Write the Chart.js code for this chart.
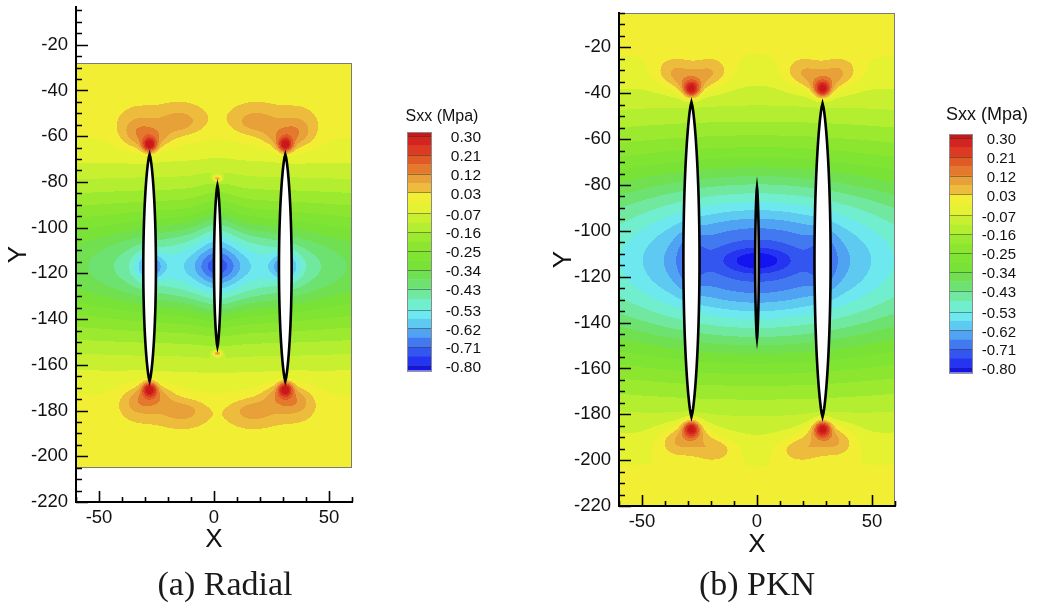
<!DOCTYPE html>
<html>
<head>
<meta charset="utf-8">
<script src="https://cdn.jsdelivr.net/npm/chart.js@4.4.0/dist/chart.umd.min.js"></script>
<style>
  body { margin: 0; background: #fff; width: 1037px; height: 604px; overflow: hidden; position: relative; }
  canvas { position: absolute; top: 0; }
</style>
</head>
<body>
<canvas id="radial" width="540" height="604" style="left:0"></canvas>
<canvas id="pkn" width="497" height="604" style="left:540px"></canvas>
<script>
// Sxx contour levels (MPa) shown on the legends
const sxxLevels = [0.30, 0.21, 0.12, 0.03, -0.07, -0.16, -0.25, -0.34, -0.43, -0.53, -0.62, -0.71, -0.80];
const xTickValues = [-50, 0, 50];
const yTickValues = [-220, -200, -180, -160, -140, -120, -100, -80, -60, -40, -20];

// (a) Radial: fractures (x, tips, max opening)
const radialFracX = [-28, 1.5, 31];
const radialFracTop = [-68, -81.5, -68];
const radialFracBottom = [-167, -152, -167];
const radialFracWidth = [5.5, 3, 5.5];
// (a) Radial: stress sources (centre, amplitude, spread)
const radialSrcX   = [1.5, 1.5, 1.5, -28, 1.5, 31, -28, 31, -28, 31, -33, -15, -26, 36, 18, 29, -32, -14, -25, 35, 17, 28, 1.5, 1.5];
const radialSrcY   = [-117, -117, -112, -117, -117, -117, -64, -64, -170.5, -170.5, -58, -54, -61, -58, -54, -61, -176, -180, -173, -176, -180, -173, -78.5, -155];
const radialSrcAmp = [-0.38, -0.24, -0.10, -0.18, -0.06, -0.18, 0.30, 0.30, 0.30, 0.30, 0.11, 0.10, 0.08, 0.11, 0.10, 0.08, 0.11, 0.10, 0.08, 0.11, 0.10, 0.08, 0.22, 0.22];
const radialSrcRx  = [250, 46, 9, 6, 8, 6, 3, 3, 3, 3, 9, 11, 8, 9, 11, 8, 9, 11, 8, 9, 11, 8, 2, 2];
const radialSrcRy  = [40, 17, 26, 6, 5, 6, 3, 3, 3, 3, 8, 6.5, 5, 8, 6.5, 5, 7, 6, 5, 7, 6, 5, 1.5, 1.5];

// (b) PKN: fractures
const pknFracX = [-28.5, 0, 28.5];
const pknFracTop = [-44, -81, -44.5];
const pknFracBottom = [-181, -147, -181];
const pknFracWidth = [7, 1.6, 7];
// (b) PKN: stress sources
const pknSrcX   = [0, 0, -28.5, 28.5, 0, -28.5, 28.5, -28.5, 28.5, -36, -20, -28.5, 20, 36, 28.5, -35, -19, -27.5, 35, 19, 27.5];
const pknSrcY   = [-113, -113, -113, -113, -113, -38.5, -38.5, -186, -186, -31, -31, -36, -31, -31, -36, -192, -195, -188, -192, -195, -188];
const pknSrcAmp = [-0.50, -0.28, -0.07, -0.07, -0.10, 0.30, 0.30, 0.30, 0.30, 0.11, 0.11, 0.10, 0.11, 0.11, 0.10, 0.11, 0.11, 0.10, 0.11, 0.11, 0.10];
const pknSrcRx  = [250, 58, 6, 6, 14, 3.5, 3.5, 3.5, 3.5, 9, 9, 8, 9, 9, 8, 9, 10, 8, 9, 10, 8];
const pknSrcRy  = [62, 32, 12, 12, 5, 3.5, 3.5, 3.5, 3.5, 7, 7, 5, 7, 7, 5, 7, 6, 5, 7, 6, 5];

// legend palette, top (above 0.30) to bottom (below -0.80), two shades per labelled interval
const bandColors = [
  '#c81818', '#d42420', '#dc3a22', '#e05a26', '#e4782c', '#e8a038', '#edbc3c',
  '#f2ee34', '#e4f232', '#c8f030', '#b4ee30', '#9cea30', '#8ce630', '#80e432',
  '#78e236', '#70e050', '#6ee270', '#70e8a0', '#70eece', '#6ce8ee', '#5ecaf2',
  '#50a2f2', '#4278f0', '#3456f0', '#2434f0', '#1414f0'
];

// band boundaries: every labelled level plus the midpoint between neighbours
const bounds = [];
sxxLevels.forEach((v, i) => {
  bounds.push(v);
  if (i < sxxLevels.length - 1) bounds.push((v + sxxLevels[i + 1]) / 2);
});
const bandRGB = bandColors.map(h => [1, 3, 5].map(k => parseInt(h.substr(k, 2), 16)));

function bandIndex(s) {
  let k = 0;
  while (k < bounds.length && s < bounds[k]) k++;
  return k;
}

/**
 * Sxx at (x, y): background plus a sum of gaussian sources.
 */
function stressAt(src, x, y) {
  let s = src.base;
  for (let i = 0; i < src.x.length; i++) {
    const dx = (x - src.x[i]) / src.rx[i];
    const dy = (y - src.y[i]) / src.ry[i];
    s += src.amp[i] * Math.exp(-dx * dx - dy * dy);
  }
  return s;
}

/**
 * Paints the banded contour field inside the model domain.
 */
const fieldPlugin = {
  id: 'sxxField',
  beforeDraw(chart, args, opts) {
    const { ctx, scales: { x, y } } = chart;
    const src = opts.source;
    const x0 = Math.round(x.getPixelForValue(opts.domainX[0]));
    const x1 = Math.round(x.getPixelForValue(opts.domainX[1]));
    const y0 = Math.round(y.getPixelForValue(opts.domainY[1]));
    const y1 = Math.round(y.getPixelForValue(opts.domainY[0]));
    const w = x1 - x0, h = y1 - y0;
    const off = document.createElement('canvas');
    off.width = w; off.height = h;
    const octx = off.getContext('2d');
    const img = octx.createImageData(w, h);
    for (let j = 0; j < h; j++) {
      const vy = y.getValueForPixel(y0 + j + 0.5);
      for (let i = 0; i < w; i++) {
        const vx = x.getValueForPixel(x0 + i + 0.5);
        const c = bandRGB[bandIndex(stressAt(src, vx, vy))];
        const p = (j * w + i) * 4;
        img.data[p] = c[0]; img.data[p + 1] = c[1]; img.data[p + 2] = c[2]; img.data[p + 3] = 255;
      }
    }
    octx.putImageData(img, 0, 0);
    ctx.save();
    ctx.filter = 'blur(0.6px)';
    ctx.drawImage(off, x0, y0);
    ctx.filter = 'none';

    // fractures as white lenses with a black outline
    const fr = opts.fractures;
    fr.x.forEach((fx, n) => {
      const mid = (fr.top[n] + fr.bottom[n]) / 2;
      const half = (fr.top[n] - fr.bottom[n]) / 2;
      const pts = [];
      for (let k = 0; k <= 80; k++) {
        const t = -1 + 2 * k / 80;
        pts.push([t, Math.pow(1 - t * t, 0.7) * fr.width[n] / 2]);
      }
      ctx.beginPath();
      pts.forEach(([t, hw], k) => {
        const px = x.getPixelForValue(fx - hw), py = y.getPixelForValue(mid + t * half);
        k === 0 ? ctx.moveTo(px, py) : ctx.lineTo(px, py);
      });
      pts.slice().reverse().forEach(([t, hw]) => {
        ctx.lineTo(x.getPixelForValue(fx + hw), y.getPixelForValue(mid + t * half));
      });
      ctx.closePath();
      ctx.fillStyle = '#fff';
      ctx.fill();
      ctx.lineWidth = 2.6;
      ctx.strokeStyle = '#000';
      ctx.stroke();
    });

    ctx.lineWidth = 1;
    ctx.strokeStyle = '#7a7a7a';
    ctx.strokeRect(x0 + 0.5, y0 + 0.5, w - 1, h - 1);
    ctx.restore();
  }
};

/**
 * Inward tick marks, the Sxx legend and the panel caption.
 */
const decorPlugin = {
  id: 'decor',
  afterDraw(chart, args, opts) {
    const { ctx, chartArea: a, scales: { x, y } } = chart;
    ctx.save();
    ctx.strokeStyle = '#000';
    ctx.lineWidth = 1.6;
    ctx.beginPath();
    for (let v = -220; v <= y.max; v += 5) {
      const py = Math.round(y.getPixelForValue(v)) + 0.5;
      ctx.moveTo(a.left, py);
      ctx.lineTo(a.left + (v % 20 === 0 ? 12 : 6), py);
    }
    for (let v = -60; v <= 60; v += 10) {
      const px = Math.round(x.getPixelForValue(v)) + 0.5;
      ctx.moveTo(px, a.bottom);
      ctx.lineTo(px, a.bottom - (v % 50 === 0 ? 11 : 5));
    }
    ctx.stroke();

    // legend bar
    const lg = opts.legend;
    const top = lg.levelTop, bot = lg.levelBottom;
    const hi = sxxLevels[0], lo = sxxLevels[sxxLevels.length - 1];
    const ypos = v => top + (hi - v) / (hi - lo) * (bot - top);
    for (let k = 0; k < bandColors.length; k++) {
      const ya = k === 0 ? lg.barTop : ypos(bounds[k - 1]);
      const yb = k === bandColors.length - 1 ? lg.barBottom : ypos(bounds[k]);
      ctx.fillStyle = bandColors[k];
      ctx.fillRect(lg.x, ya, lg.width, yb - ya + 0.5);
    }
    ctx.strokeStyle = 'rgba(40,40,40,0.45)';
    ctx.lineWidth = 1;
    ctx.beginPath();
    sxxLevels.forEach(v => {
      const py = Math.round(ypos(v)) + 0.5;
      ctx.moveTo(lg.x, py);
      ctx.lineTo(lg.x + lg.width, py);
    });
    ctx.stroke();
    ctx.strokeStyle = '#8a8a8a';
    ctx.strokeRect(lg.x + 0.5, lg.barTop + 0.5, lg.width - 1, lg.barBottom - lg.barTop - 1);

    ctx.fillStyle = '#111';
    ctx.font = lg.labelFont;
    ctx.textAlign = 'right';
    ctx.textBaseline = 'middle';
    sxxLevels.forEach(v => ctx.fillText(v.toFixed(2), lg.labelRight, ypos(v) + 2));
    ctx.font = lg.titleFont;
    ctx.textAlign = 'center';
    ctx.textBaseline = 'alphabetic';
    ctx.fillText('Sxx (Mpa)', lg.titleX, lg.titleY);

    // caption under the panel
    ctx.font = '34px "Liberation Serif", serif';
    ctx.fillStyle = '#1a1a1a';
    ctx.fillText(opts.caption, opts.captionX, 595);
    ctx.restore();
  }
};

/**
 * Creates one contour panel.
 */
function createPanel(canvasId, cfg) {
  const tickFont = { family: '"Liberation Sans", Arial, sans-serif', size: 18.5 };
  const titleFont = { family: '"Liberation Sans", Arial, sans-serif', size: 26 };
  return new Chart(document.getElementById(canvasId), {
    type: 'scatter',
    data: {
      datasets: cfg.fractures.x.map((fx, n) => ({
        data: [{ x: fx, y: cfg.fractures.top[n] }, { x: fx, y: cfg.fractures.bottom[n] }],
        pointRadius: 0,
        showLine: false
      }))
    },
    options: {
      responsive: false,
      animation: false,
      events: [],
      layout: { autoPadding: false, padding: { left: 0, top: cfg.padTop, right: cfg.padRight, bottom: 0 } },
      plugins: {
        legend: { display: false },
        tooltip: { enabled: false },
        sxxField: { source: cfg.source, domainX: cfg.domainX, domainY: cfg.domainY, fractures: cfg.fractures },
        decor: { legend: cfg.legend, caption: cfg.caption, captionX: cfg.captionX }
      },
      scales: {
        x: {
          type: 'linear',
          min: -60,
          max: 60,
          grid: { display: false, drawTicks: false },
          border: { display: true, color: '#000', width: 2, z: 1 },
          afterBuildTicks: s => { s.ticks = xTickValues.map(v => ({ value: v })); },
          afterFit: s => { s.height = cfg.xAxisHeight; s.paddingLeft = 0; s.paddingRight = 0; },
          ticks: { font: tickFont, color: '#111', padding: 5, maxRotation: 0, callback: v => String(v) },
          title: { display: true, text: 'X', font: titleFont, color: '#111', padding: { top: 0, bottom: cfg.xTitlePad } }
        },
        y: {
          type: 'linear',
          min: -220,
          max: cfg.yMax,
          grid: { display: false, drawTicks: false },
          border: { display: true, color: '#000', width: 2, z: 1 },
          afterBuildTicks: s => { s.ticks = yTickValues.map(v => ({ value: v })); },
          afterFit: s => { s.width = cfg.yAxisWidth; s.paddingTop = 0; s.paddingBottom = 0; },
          ticks: { font: tickFont, color: '#111', padding: 8, callback: v => String(v) },
          title: { display: true, text: 'Y', font: titleFont, color: '#111', padding: { top: cfg.yTitlePad, bottom: 0 } }
        }
      }
    },
    plugins: [fieldPlugin, decorPlugin]
  });
}

createPanel('radial', {
  padTop: 7, padRight: 188, yAxisWidth: 76, xAxisHeight: 102, yMax: -3.5,
  xTitlePad: 49, yTitlePad: 3,
  domainX: [-60, 60], domainY: [-205, -28],
  source: { base: 0.03, x: radialSrcX, y: radialSrcY, amp: radialSrcAmp, rx: radialSrcRx, ry: radialSrcRy },
  fractures: { x: radialFracX, top: radialFracTop, bottom: radialFracBottom, width: radialFracWidth },
  legend: { x: 407, width: 25, barTop: 132, barBottom: 371, levelTop: 136, levelBottom: 366,
            labelRight: 481, labelFont: '15.5px "Liberation Sans", Arial, sans-serif',
            titleX: 442, titleY: 121, titleFont: '16px "Liberation Sans", Arial, sans-serif' },
  caption: '(a) Radial', captionX: 225
});

createPanel('pkn', {
  padTop: 13, padRight: 142, yAxisWidth: 79, xAxisHeight: 98, yMax: -5,
  xTitlePad: 44, yTitlePad: 8,
  domainX: [-60, 60], domainY: [-220, -5],
  source: { base: 0.04, x: pknSrcX, y: pknSrcY, amp: pknSrcAmp, rx: pknSrcRx, ry: pknSrcRy },
  fractures: { x: pknFracX, top: pknFracTop, bottom: pknFracBottom, width: pknFracWidth },
  legend: { x: 409, width: 24, barTop: 134, barBottom: 373, levelTop: 138, levelBottom: 368,
            labelRight: 476, labelFont: '15px "Liberation Sans", Arial, sans-serif',
            titleX: 447, titleY: 120, titleFont: '18px "Liberation Sans", Arial, sans-serif' },
  caption: '(b) PKN', captionX: 217
});
</script>
</body>
</html>
